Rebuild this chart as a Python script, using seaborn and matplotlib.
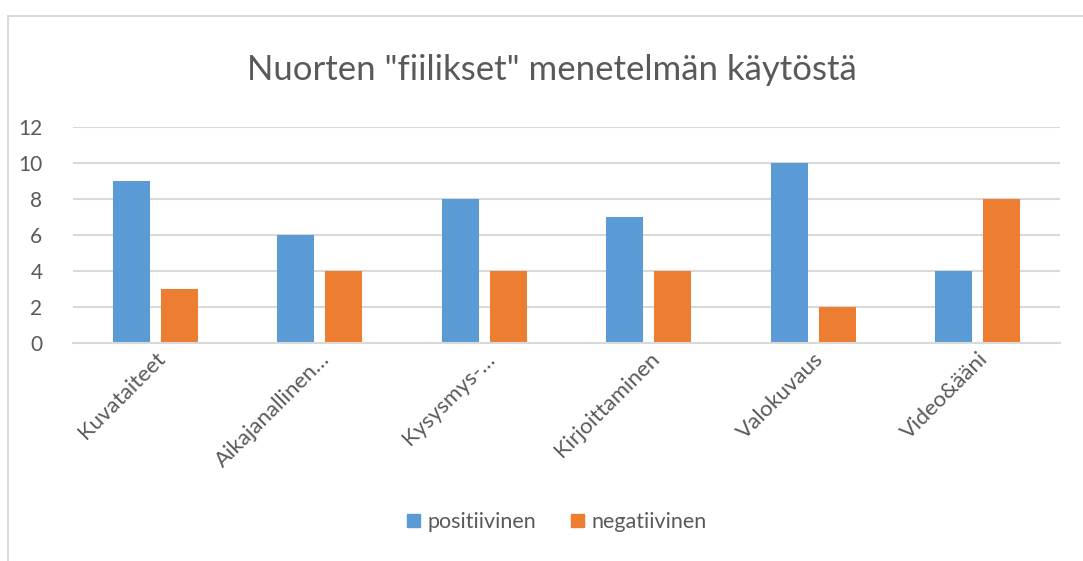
import matplotlib
matplotlib.use("Agg")
import matplotlib.pyplot as plt
import seaborn as sns
import pandas as pd
from matplotlib.lines import Line2D

categories = ["Kuvataiteet", "Aikajanallinen…", "Kysysmys-…", "Kirjoittaminen", "Valokuvaus", "Video&ääni"]
positiivinen = [9, 6, 8, 7, 10, 4]
negatiivinen = [3, 4, 4, 4, 2, 8]
series_names = ["positiivinen", "negatiivinen"]
yticks = [0, 2, 4, 6, 8, 10, 12]
title = 'Nuorten "fiilikset" menetelmän käytöstä'

sns.set_theme(style="white")
plt.rcParams['font.family'] = ['Lato', 'DejaVu Sans']

df = pd.DataFrame({
    "cat": categories * 2,
    "val": positiivinen + negatiivinen,
    "series": [series_names[0]] * len(categories) + [series_names[1]] * len(categories),
})

W, H = 1083, 561
fig = plt.figure(figsize=(W / 100, H / 100), dpi=100)
ax = fig.add_axes([73 / W, 1 - 343 / H, (1060 - 73) / W, (343 - 127) / H])

sns.barplot(data=df, x="cat", y="val", hue="series", order=categories,
            hue_order=series_names, palette=["#5B9BD5", "#ED7D31"],
            width=0.584, gap=0.23, ax=ax, legend=False, saturation=1, linewidth=0)

ax.set_ylim(0, 12)
ax.set_xlim(-0.5, len(categories) - 0.5)
ax.set_yticks(yticks)
ax.set_yticklabels([str(t) for t in yticks], fontsize=15, color="#595959")
ax.yaxis.grid(True, color="#D9D9D9", linewidth=1.5)
ax.set_axisbelow(True)
for s in ["top", "right", "left"]:
    ax.spines[s].set_visible(False)
ax.spines["bottom"].set_color("#D9D9D9")
ax.spines["bottom"].set_linewidth(1.5)
ax.tick_params(axis="y", length=0, pad=22)
ax.tick_params(axis="x", length=0, pad=4)
ax.set_xlabel("")
ax.set_ylabel("")
plt.setp(ax.get_xticklabels(), rotation=45, ha="right", rotation_mode="anchor",
         fontsize=16, color="#595959")

fig.text(552 / W, 1 - 70 / H, title, ha="center", va="center", fontsize=25, color="#595959")

handles = [plt.Rectangle((0, 0), 1, 1, color=c) for c in ["#5B9BD5", "#ED7D31"]]
fig.legend(handles, series_names, loc="center", bbox_to_anchor=(557 / W, 1 - 522 / H),
           ncol=2, frameon=False, fontsize=15.5, labelcolor="#595959",
           handlelength=0.6, handleheight=0.6, handletextpad=0.35, columnspacing=1.6)

fig.add_artist(Line2D([8 / W, 8 / W], [0, 1 - 16 / H], transform=fig.transFigure, color="#D9D9D9", lw=1.5))
fig.add_artist(Line2D([8 / W, 1], [1 - 16 / H, 1 - 16 / H], transform=fig.transFigure, color="#D9D9D9", lw=1.5))

fig.savefig("out.png", dpi=100)
